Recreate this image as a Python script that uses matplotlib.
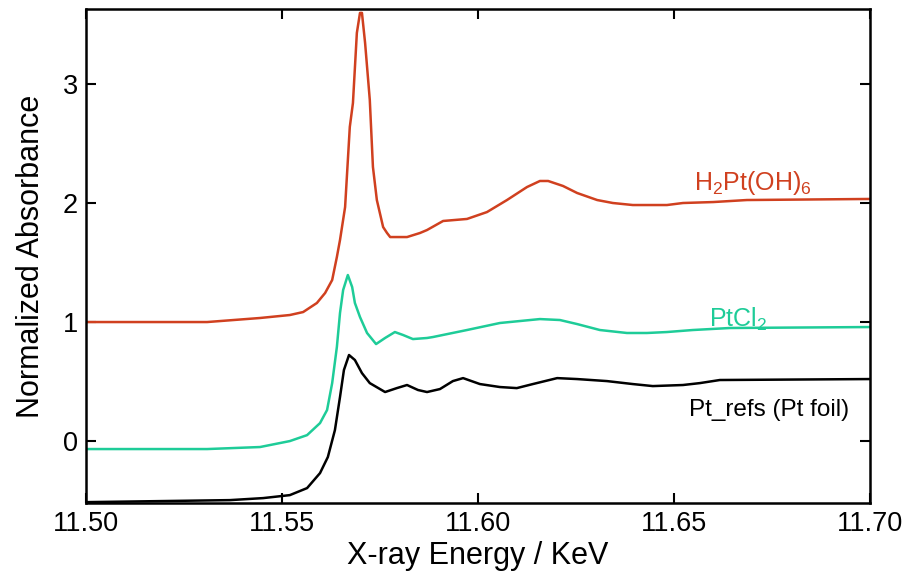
import matplotlib
matplotlib.use("Agg")
import matplotlib.pyplot as plt

plt.rcParams['font.family'] = ['Liberation Sans', 'DejaVu Sans']
plt.rcParams['mathtext.fontset'] = 'custom'
plt.rcParams['mathtext.rm'] = 'Liberation Sans'

# H2Pt(OH)6 spectrum (energy in keV, normalized absorbance)
h2pt_x = [11.500, 11.5309, 11.5444, 11.5520, 11.5554, 11.5589, 11.5610, 11.5628,
          11.5640, 11.5648, 11.5661, 11.5673, 11.5681, 11.5691, 11.5699, 11.5704,
          11.5712, 11.5724, 11.5732, 11.5742, 11.5758, 11.5768, 11.5776, 11.5819,
          11.5852, 11.5870, 11.5911, 11.5972, 11.6023, 11.6074, 11.6125, 11.6158,
          11.6179, 11.6217, 11.6253, 11.6304, 11.6344, 11.6395, 11.6482, 11.6523,
          11.6600, 11.6686, 11.700]
h2pt_y = [1.000, 1.000, 1.034, 1.059, 1.084, 1.160, 1.244, 1.353,
          1.546, 1.689, 1.966, 2.639, 2.840, 3.429, 3.597, 3.597,
          3.345, 2.866, 2.303, 2.025, 1.798, 1.748, 1.714, 1.714,
          1.748, 1.773, 1.849, 1.866, 1.924, 2.025, 2.134, 2.185,
          2.185, 2.143, 2.084, 2.025, 2.000, 1.983, 1.983, 2.000,
          2.008, 2.025, 2.034]

# PtCl2 spectrum
ptcl_x = [11.500, 11.5309, 11.5444, 11.5520, 11.5564, 11.5597, 11.5615, 11.5628,
          11.5640, 11.5648, 11.5656, 11.5668, 11.5679, 11.5686, 11.5699, 11.5717,
          11.5740, 11.5763, 11.5788, 11.5809, 11.5834, 11.5870, 11.5885, 11.5972,
          11.6056, 11.6158, 11.6209, 11.6253, 11.6311, 11.6380, 11.6431, 11.6482,
          11.6548, 11.6643, 11.700]
ptcl_y = [-0.067, -0.067, -0.050, 0.000, 0.050, 0.151, 0.261, 0.487,
          0.790, 1.076, 1.269, 1.395, 1.294, 1.160, 1.042, 0.908,
          0.815, 0.866, 0.916, 0.891, 0.857, 0.866, 0.874, 0.933,
          0.992, 1.025, 1.017, 0.983, 0.933, 0.908, 0.908, 0.916,
          0.933, 0.950, 0.958]

# Pt foil reference
foil_x = [11.500, 11.5367, 11.5452, 11.5520, 11.5564, 11.5597, 11.5617, 11.5635,
          11.5648, 11.5658, 11.5671, 11.5686, 11.5704, 11.5724, 11.5763, 11.5793,
          11.5819, 11.5847, 11.5870, 11.5903, 11.5936, 11.5962, 11.6005, 11.6056,
          11.6099, 11.6140, 11.6202, 11.6253, 11.6329, 11.6395, 11.6446, 11.6523,
          11.6566, 11.6617, 11.700]
foil_y = [-0.513, -0.496, -0.479, -0.454, -0.395, -0.269, -0.134, 0.092,
          0.370, 0.597, 0.723, 0.681, 0.571, 0.487, 0.412, 0.445,
          0.471, 0.429, 0.412, 0.437, 0.504, 0.529, 0.479, 0.454,
          0.445, 0.479, 0.529, 0.521, 0.504, 0.479, 0.462, 0.471,
          0.487, 0.513, 0.521]

red = '#d0401f'
green = '#1ecc98'

fig = plt.figure(figsize=(9.12, 5.79), dpi=100)
ax = fig.add_axes([0.0943, 0.1313, 0.8596, 0.8532])

ax.plot(h2pt_x, h2pt_y, color=red, lw=1.8)
ax.plot(ptcl_x, ptcl_y, color=green, lw=1.8)
ax.plot(foil_x, foil_y, color='black', lw=1.8)

ax.text(11.6702, 2.17, r'H$_2$Pt(OH)$_6$', color=red, fontsize=18,
        ha='center', va='center')
ax.text(11.6665, 1.02, r'PtCl$_2$', color=green, fontsize=18,
        ha='center', va='center')
ax.text(11.6742, 0.26, 'Pt_refs (Pt foil)', color='black', fontsize=17.5,
        ha='center', va='center')

ax.set_xlim(11.50, 11.70)
ax.set_ylim(-0.52, 3.63)
ax.set_xticks([11.50, 11.55, 11.60, 11.65, 11.70])
ax.set_xticklabels(['11.50', '11.55', '11.60', '11.65', '11.70'])
ax.set_yticks([0, 1, 2, 3])

ax.tick_params(direction='in', length=7, width=1.5, labelsize=19.5,
               top=True, right=True, pad=6)
for s in ax.spines.values():
    s.set_linewidth(1.8)

ax.set_xlabel('X-ray Energy / KeV', fontsize=22, labelpad=3)
ax.set_ylabel('Normalized Absorbance', fontsize=22, labelpad=12)

fig.savefig('out.png', dpi=100)
